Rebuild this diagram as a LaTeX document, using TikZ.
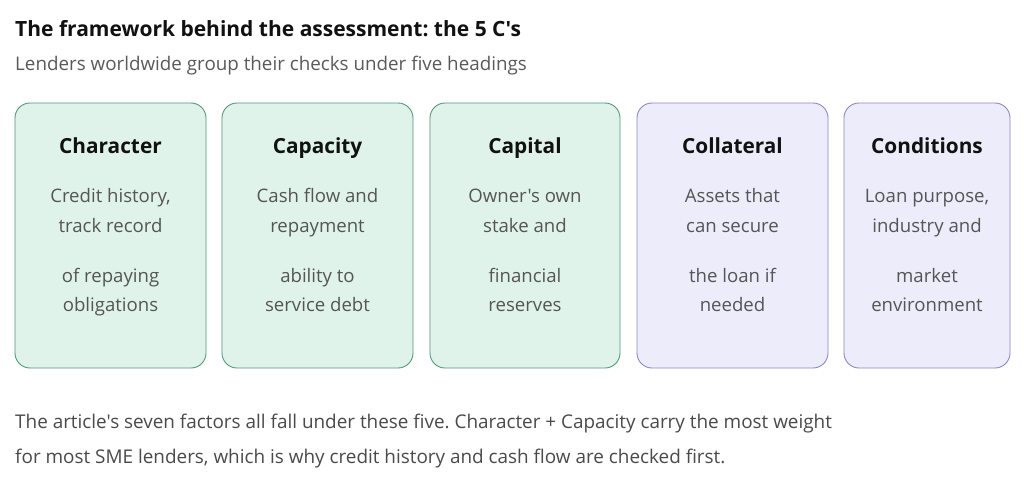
\documentclass[tikz,border=0pt]{standalone}
\usepackage{fontspec}
\setmainfont{Open Sans}[Ligatures=TeXOff]
\definecolor{gfill}{HTML}{E0F3EB}
\definecolor{gline}{HTML}{4F9B75}
\definecolor{pfill}{HTML}{EDECFB}
\definecolor{pline}{HTML}{8C86C8}
\definecolor{subgrey}{HTML}{5A5A5A}
\definecolor{bodygrey}{HTML}{555555}
\definecolor{footgrey}{HTML}{4A4A4A}
\definecolor{titleblack}{HTML}{111111}
\frenchspacing
\begin{document}
\begin{tikzpicture}[x=1pt,y=-1pt,
  greenbox/.style={draw=gline,fill=gfill,line width=0.9pt,rounded corners=15pt},
  purplebox/.style={draw=pline,fill=pfill,line width=0.9pt,rounded corners=15pt},
  boxtitle/.style={anchor=base,inner sep=0pt,text=titleblack,font=\fontsize{20.8}{24}\selectfont\bfseries},
  boxbody/.style={anchor=base,inner sep=0pt,text=bodygrey,font=\fontsize{18.6}{22}\selectfont},
  heading/.style={anchor=base west,inner sep=0pt,text=titleblack,font=\fontsize{21}{24}\selectfont\bfseries},
  subhead/.style={anchor=base west,inner sep=0pt,text=subgrey,font=\fontsize{18.8}{22}\selectfont},
  foot/.style={anchor=base west,inner sep=0pt,text=footgrey,font=\fontsize{18.9}{22}\selectfont}]
\useasboundingbox[fill=white] (0,0) rectangle (1024,477);
\node[heading] (title) at (15,36) {The framework behind the assessment: the 5 C's};
\node[subhead] (sub) at (15,70) {Lenders worldwide group their checks under five headings};
% boxes
\path[greenbox] (15,103) rectangle (206,368);
\path[greenbox] (222,103) rectangle (413,368);
\path[greenbox] (430,103) rectangle (620,368);
\path[purplebox] (637,103) rectangle (828,368);
\path[purplebox] (844,103) rectangle (1010,368);
% texts
\foreach \cx/\t/\a/\b/\c/\d [count=\i] in {
  110.5/Character/{Credit history,}/{track record}/{of repaying}/{obligations},
  317.5/Capacity/{Cash flow and}/{repayment}/{ability to}/{service debt},
  525/Capital/{Owner's own}/{stake and}/{financial}/{reserves},
  732.5/Collateral/{Assets that}/{can secure}/{the loan if}/{needed},
  927/Conditions/{Loan purpose,}/{industry and}/{market}/{environment}}{
  \node[boxtitle] (t\i) at (\cx,153) {\t};
  \node[boxbody] (a\i) at (\cx,202) {\a};
  \node[boxbody] (b\i) at (\cx,232) {\b};
  \node[boxbody] (c\i) at (\cx,282) {\c};
  \node[boxbody] (d\i) at (\cx,311) {\d};
}
\node[foot] (f1) at (15,428) {The article's seven factors all fall under these five. Character + Capacity carry the most weight};
\node[foot] (f2) at (15,463) {for most SME lenders, which is why credit history and cash flow are checked first.};
\end{tikzpicture}
\end{document}
